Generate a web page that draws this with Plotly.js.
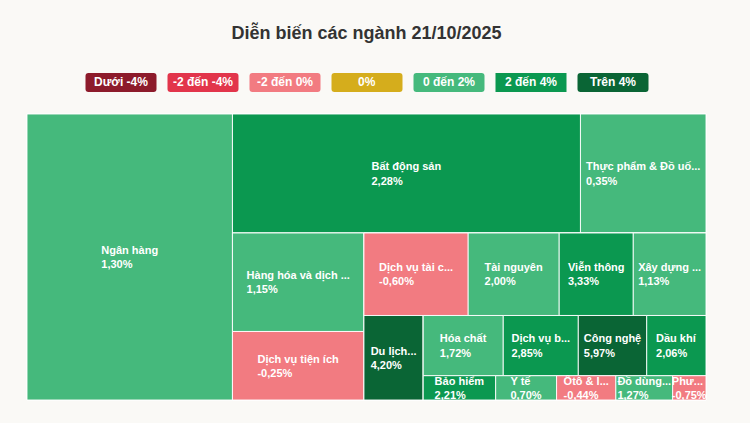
<!DOCTYPE html>
<html>
<head>
<meta charset="utf-8">
<script src="https://cdn.plot.ly/plotly-3.0.1.min.js"></script>
<style>
  html, body { margin: 0; padding: 0; background: #faf9f6; }
  #chart { width: 750px; height: 423px; }
</style>
</head>
<body>
<div id="chart"></div>
<script>
// ---- Data ----
const sectors = ['Ngân hàng', 'Bất động sản', 'Thực phẩm & Đồ uống', 'Hàng hóa và dịch vụ công nghiệp',
  'Dịch vụ tiện ích', 'Dịch vụ tài chính', 'Tài nguyên', 'Viễn thông', 'Xây dựng & Vật liệu',
  'Du lịch và Giải trí', 'Hóa chất', 'Dịch vụ bán lẻ', 'Công nghệ', 'Dầu khí', 'Bảo hiểm', 'Y tế',
  'Ô tô & linh kiện', 'Đồ dùng cá nhân', 'Phương tiện truyền thông'];
const shownLabels = ['Ngân hàng', 'Bất động sản', 'Thực phẩm & Đồ uố...', 'Hàng hóa và dịch ...',
  'Dịch vụ tiện ích', 'Dịch vụ tài c...', 'Tài nguyên', 'Viễn thông', 'Xây dựng ...',
  'Du lịch...', 'Hóa chất', 'Dịch vụ b...', 'Công nghệ', 'Dầu khí', 'Bảo hiểm', 'Y tế',
  'Ôtô & l...', 'Đồ dùng...', 'Phư...'];
const changes = [1.30, 2.28, 0.35, 1.15, -0.25, -0.60, 2.00, 3.33, 1.13, 4.20, 1.72, 2.85, 5.97,
  2.06, 2.21, 0.70, -0.44, 1.27, -0.75];
const weights = [58770, 41410, 14940, 12950, 9010, 8600, 7510, 6110, 6000, 5010, 4820, 4520, 4120,
  3570, 1760, 1480, 1440, 1380, 810];
// tree structure (grouping) used by the slice-dice tiling
const sectorParents = ['root', 'top', 'top', 'colA', 'colA', 'rowB', 'rowB', 'rowB', 'rowB', 'R4',
  'rowC', 'rowC', 'rowC', 'rowC', 'rowD', 'rowD', 'rowD', 'rowD', 'rowD'];
const groupIds = ['root', 'R1', 'top', 'R2', 'colA', 'R3', 'rowB', 'R4', 'R5', 'rowC', 'rowD'];
const groupParents = ['', 'root', 'R1', 'R1', 'R2', 'R2', 'R3', 'R3', 'R4', 'R5', 'R5'];

const legendLabels = ['Dưới -4%', '-2 đến -4%', '-2 đến 0%', '0%', '0 đến 2%', '2 đến 4%', 'Trên 4%'];
const legendColors = ['#8d1b2b', '#e2354b', '#f27b81', '#d5ad1c', '#45b97c', '#0b9850', '#0a6535'];

function bucket(v) {
  if (v < -4) return 0;
  if (v < -2) return 1;
  if (v < 0) return 2;
  if (v === 0) return 3;
  if (v <= 2) return 4;
  if (v <= 4) return 5;
  return 6;
}
function pct(v) { return v.toFixed(2).replace('.', ',') + '%'; }

const ids = [], labels = [], parents = [], values = [], texts = [], colors = [];
sectors.forEach((s, i) => {
  ids.push('s' + i); labels.push(s); parents.push(sectorParents[i]); values.push(weights[i]);
  texts.push(shownLabels[i] + '<br>' + pct(changes[i]));
  colors.push(legendColors[bucket(changes[i])]);
});
groupIds.forEach((g, i) => {
  ids.push(g); labels.push(g); parents.push(groupParents[i]); values.push(0);
  texts.push(''); colors.push('#45b97c');
});

const trace = {
  type: 'treemap',
  ids: ids, labels: labels, parents: parents, values: values,
  branchvalues: 'remainder',
  sort: false,
  text: texts,
  textinfo: 'text',
  textposition: 'middle center',
  textfont: { family: 'Liberation Sans, Arial, sans-serif', size: 11, color: '#ffffff', weight: 'bold' },
  tiling: { packing: 'slice-dice', pad: 0 },
  marker: { colors: colors, line: { color: 'rgba(255,255,255,0.9)', width: 1 },
            pad: { t: 0, l: 0, r: 0, b: 0 }, depthfade: false },
  leaf: { opacity: 1 },
  pathbar: { visible: false },
  hoverinfo: 'label+text',
  domain: { x: [0, 1], y: [0, 1] }
};

// legend boxes
const L = 27, R = 706, T = 114, B = 400;
const shapes = [], annotations = [];
const boxW = 71, boxH = 19, legendY = 82.5;
legendLabels.forEach((lab, i) => {
  const cx = 367 + (i - 3) * 82;
  const r = (i === 5) ? 0 : 3;
  const hw = boxW / 2, hh = boxH / 2;
  const path = `M ${-hw + r},${-hh} L ${hw - r},${-hh} Q ${hw},${-hh} ${hw},${-hh + r} L ${hw},${hh - r} Q ${hw},${hh} ${hw - r},${hh} L ${-hw + r},${hh} Q ${-hw},${hh} ${-hw},${hh - r} L ${-hw},${-hh + r} Q ${-hw},${-hh} ${-hw + r},${-hh} Z`;
  shapes.push({
    type: 'path', xref: 'paper', yref: 'paper',
    xsizemode: 'pixel', ysizemode: 'pixel',
    xanchor: (cx - L) / (R - L), yanchor: (B - legendY) / (B - T),
    path: path, fillcolor: legendColors[i], line: { width: 0 }, layer: 'above'
  });
  annotations.push({
    xref: 'paper', yref: 'paper', x: (cx - L) / (R - L), y: (B - legendY) / (B - T),
    xanchor: 'center', yanchor: 'middle', showarrow: false, text: lab,
    font: { family: 'Liberation Sans, Arial, sans-serif', size: 12, color: '#ffffff', weight: 'bold' }
  });
});

const layout = {
  width: 750, height: 423,
  margin: { l: L, r: 750 - R, t: T, b: 423 - B, pad: 0 },
  paper_bgcolor: '#faf9f6',
  plot_bgcolor: '#faf9f6',
  title: {
    text: 'Diễn biến các ngành 21/10/2025',
    font: { family: 'Liberation Sans, Arial, sans-serif', size: 18, color: '#333333', weight: 'bold' },
    x: 0.5, xref: 'paper', xanchor: 'center',
    y: 1 - 33 / 423, yref: 'container', yanchor: 'middle'
  },
  uniformtext: { minsize: 11, mode: 'show' },
  shapes: shapes,
  annotations: annotations,
  showlegend: false
};

// left-align the two label lines inside a centered block (as in the reference)
function alignBlocks(gd) {
  gd.querySelectorAll('text.slicetext').forEach(t => {
    const lines = t.querySelectorAll('tspan.line');
    if (lines.length < 2) return;
    let maxW = 0;
    lines.forEach(l => { maxW = Math.max(maxW, l.getComputedTextLength()); });
    t.setAttribute('text-anchor', 'start');
    t.style.textAnchor = 'start';
    lines.forEach(l => {
      const x0 = parseFloat(l.getAttribute('x') || '0');
      l.setAttribute('x', String(x0 - maxW / 2));
    });
  });
}

Plotly.newPlot('chart', [trace], layout, { displayModeBar: false, staticPlot: true })
  .then(gd => alignBlocks(gd));
</script>
</body>
</html>
